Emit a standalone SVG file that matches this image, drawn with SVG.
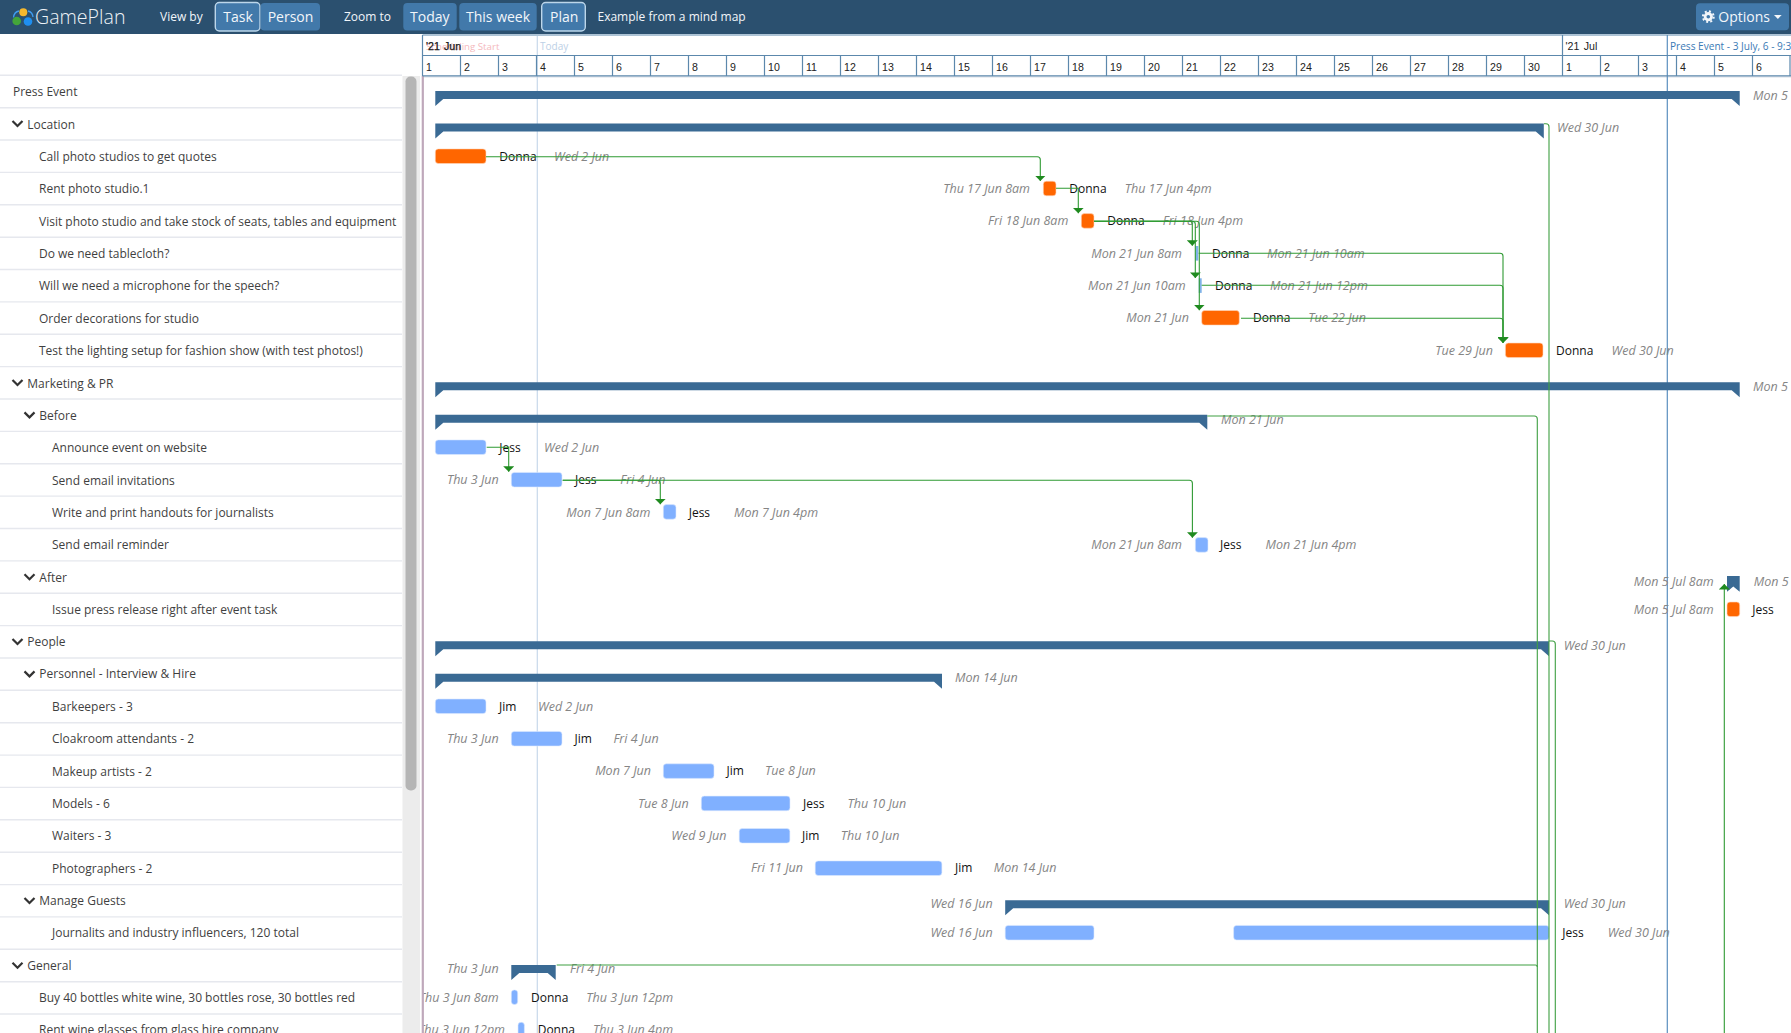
<svg xmlns="http://www.w3.org/2000/svg" width="1791" height="1033" viewBox="0 0 1791 1033">
<style>
text{font-family:"Open Sans","Liberation Sans",sans-serif}
.r{font-size:12px;fill:#3f3f3f}
.d{font-size:12.5px;font-style:italic;fill:#858585;transform:translateY(-.4px)}
.e{text-anchor:end}
.p{font-size:12px;fill:#111;transform:translateY(-.4px)}
.n{font-family:"Liberation Sans",Arial,sans-serif;font-size:10.6px;fill:#222}
.o{fill:#ff6600;stroke:#ffd9bf;stroke-width:.6}
.b{fill:#80b0ff;stroke:#dce9ff;stroke-width:.6}
.s{fill:#3a6a94}
.c{fill:none;stroke:#3f9f42;stroke-width:1.1}
.a{fill:none;stroke:#2f9a33;stroke-width:1.1;marker-end:url(#arr)}
.sep{stroke:#e6e8ee;stroke-width:1.4}
.cell{stroke:#5c88ac;stroke-width:1.2;fill:none}
.btn{fill:#4279aa}
.sel{fill:#4279aa;stroke:#bcd6ea;stroke-width:1.4}
.t{font-size:14px;fill:#f2f6fa}
.w{font-size:12px;fill:#f2f6fa}
.ch{fill:none;stroke:#333;stroke-width:2.2}
</style>
<defs>
<marker id="arr" markerUnits="userSpaceOnUse" markerWidth="6" markerHeight="11" refX="5.5" refY="5.5" orient="auto" viewBox="0 0 6 11"><path d="M0 0L5.5 5.5L0 11Z" fill="#1f8a1f"/></marker>
</defs>
<rect width="1791" height="1033" fill="#fff"/>

<g id="chart-lines">
<rect x="422" y="76" width="1369" height="2" fill="#eceef2"/>
<line x1="537.3" y1="36" x2="537.3" y2="1033" stroke="#c8d8ea" stroke-width="1.2"/>
<line x1="1667.3" y1="35" x2="1667.3" y2="1033" stroke="#5b8fbf" stroke-width="1.2"/>
</g>

<g id="press-event"><polygon class="s" points="435.3,91 1739.7,91 1739.7,106 1731.7,99 443.3,99 435.3,106"/><text class="d" x="1753" y="100.5">Mon 5</text></g>
<g id="location"><polygon class="s" points="435.3,123.4 1543.8,123.4 1543.8,138.4 1535.8,131.4 443.3,131.4 435.3,138.4"/><text class="d" x="1557" y="132.8">Wed 30 Jun</text></g>
<g id="call-photo-studios"><rect class="o" x="435.3" y="148.9" width="50.7" height="14.6" rx="3"/><text class="p" x="499.3" y="161">Donna</text><text class="d" x="554" y="161">Wed 2 Jun</text></g>
<g id="rent-photo-studio"><text class="d e" x="1030" y="193.4">Thu 17 Jun 8am</text><rect class="o" x="1043.3" y="181.2" width="12.7" height="14.6" rx="3"/><text class="p" x="1069.3" y="193.4">Donna</text><text class="d" x="1124.7" y="193.4">Thu 17 Jun 4pm</text></g>
<g id="visit-photo-studio"><text class="d e" x="1068.3" y="225.8">Fri 18 Jun 8am</text><rect class="o" x="1081.3" y="213.6" width="12.7" height="14.6" rx="3"/><text class="p" x="1107.3" y="225.8">Donna</text><text class="d" x="1162.7" y="225.8">Fri 18 Jun 4pm</text></g>
<g id="tablecloth"><text class="d e" x="1182" y="258.2">Mon 21 Jun 8am</text><rect x="1195.3" y="246" width="3" height="14.6" fill="#7fb2e8"/><text class="p" x="1212" y="258.2">Donna</text><text class="d" x="1267" y="258.2">Mon 21 Jun 10am</text></g>
<g id="microphone"><text class="d e" x="1185.7" y="290.5">Mon 21 Jun 10am</text><rect x="1198.7" y="278.3" width="3" height="14.6" fill="#7fb2e8"/><text class="p" x="1215" y="290.5">Donna</text><text class="d" x="1270" y="290.5">Mon 21 Jun 12pm</text></g>
<g id="order-decorations"><text class="d e" x="1189" y="322.9">Mon 21 Jun</text><rect class="o" x="1201.7" y="310.5" width="37.6" height="14.6" rx="3"/><text class="p" x="1253" y="322.9">Donna</text><text class="d" x="1308.3" y="322.9">Tue 22 Jun</text></g>
<g id="test-lighting"><text class="d e" x="1493" y="355.3">Tue 29 Jun</text><rect class="o" x="1505.4" y="343" width="37.6" height="14.6" rx="3"/><text class="p" x="1556" y="355.3">Donna</text><text class="d" x="1611.6" y="355.3">Wed 30 Jun</text></g>

<g id="marketing-pr"><polygon class="s" points="435.3,382.3 1739.7,382.3 1739.7,397.3 1731.7,390.3 443.3,390.3 435.3,397.3"/><text class="d" x="1753" y="391.8">Mon 5</text></g>
<g id="before"><polygon class="s" points="435.3,414.7 1207.3,414.7 1207.3,429.7 1199.3,422.7 443.3,422.7 435.3,429.7"/><text class="d" x="1221" y="424.2">Mon 21 Jun</text></g>
<g id="announce-event"><rect class="b" x="435.3" y="439.9" width="50.7" height="14.6" rx="3"/><text class="p" x="499.3" y="452.4">Jess</text><text class="d" x="544" y="452.4">Wed 2 Jun</text></g>
<g id="send-email-invitations"><text class="d e" x="498.7" y="484.7">Thu 3 Jun</text><rect class="b" x="511.3" y="472.4" width="50.7" height="14.6" rx="3"/><text class="p" x="575" y="484.7">Jess</text><text class="d" x="620.3" y="484.7">Fri 4 Jun</text></g>
<g id="write-handouts"><text class="d e" x="650.3" y="517.1">Mon 7 Jun 8am</text><rect class="b" x="663.3" y="504.6" width="12.7" height="14.6" rx="3"/><text class="p" x="688.7" y="517.1">Jess</text><text class="d" x="734" y="517.1">Mon 7 Jun 4pm</text></g>
<g id="send-email-reminder"><text class="d e" x="1182" y="549.5">Mon 21 Jun 8am</text><rect class="b" x="1195.3" y="537.6" width="12.7" height="14.6" rx="3"/><text class="p" x="1220" y="549.5">Jess</text><text class="d" x="1265.5" y="549.5">Mon 21 Jun 4pm</text></g>
<g id="after"><text class="d e" x="1713.7" y="586">Mon 5 Jul 8am</text><polygon class="s" points="1727,576 1739.7,576 1739.7,591.7 1733.3,586.5 1727,591.7"/><text class="d" x="1753.7" y="586">Mon 5</text></g>
<g id="press-release"><text class="d e" x="1713.7" y="614.2">Mon 5 Jul 8am</text><rect class="o" x="1727" y="602" width="12.7" height="14.6" rx="3"/><text class="p" x="1752.3" y="614.2">Jess</text></g>

<g id="people"><polygon class="s" points="435.3,641.3 1549,641.3 1549,656.3 1541,649.3 443.3,649.3 435.3,656.3"/><text class="d" x="1563.7" y="650.3">Wed 30 Jun</text></g>
<g id="personnel"><polygon class="s" points="435.3,673.7 942,673.7 942,688.7 934,681.7 443.3,681.7 435.3,688.7"/><text class="d" x="955" y="682.7">Mon 14 Jun</text></g>
<g id="barkeepers"><rect class="b" x="435.3" y="699" width="50.7" height="14.6" rx="3"/><text class="p" x="499" y="711">Jim</text><text class="d" x="538" y="711">Wed 2 Jun</text></g>
<g id="cloakroom"><text class="d e" x="498.7" y="743.3">Thu 3 Jun</text><rect class="b" x="511.3" y="731.4" width="50.7" height="14.6" rx="3"/><text class="p" x="574.5" y="743.3">Jim</text><text class="d" x="613.4" y="743.3">Fri 4 Jun</text></g>
<g id="makeup-artists"><text class="d e" x="651" y="775.7">Mon 7 Jun</text><rect class="b" x="663.3" y="763.8" width="50.7" height="14.6" rx="3"/><text class="p" x="726.5" y="775.7">Jim</text><text class="d" x="765" y="775.7">Tue 8 Jun</text></g>
<g id="models"><text class="d e" x="688.7" y="808">Tue 8 Jun</text><rect class="b" x="701.3" y="796.1" width="88.7" height="14.6" rx="3"/><text class="p" x="803" y="808">Jess</text><text class="d" x="847.5" y="808">Thu 10 Jun</text></g>
<g id="waiters"><text class="d e" x="726.5" y="840.4">Wed 9 Jun</text><rect class="b" x="739.2" y="828.5" width="50.7" height="14.6" rx="3"/><text class="p" x="802" y="840.4">Jim</text><text class="d" x="840.7" y="840.4">Thu 10 Jun</text></g>
<g id="photographers"><text class="d e" x="803" y="872.8">Fri 11 Jun</text><rect class="b" x="815.2" y="860.9" width="126.7" height="14.6" rx="3"/><text class="p" x="955" y="872.8">Jim</text><text class="d" x="993.7" y="872.8">Mon 14 Jun</text></g>
<g id="manage-guests"><text class="d e" x="992.6" y="908.8">Wed 16 Jun</text><polygon class="s" points="1005.2,900.3 1549,900.3 1549,915.3 1541,908.3 1013.2,908.3 1005.2,915.3"/><text class="d" x="1563.7" y="908.8">Wed 30 Jun</text></g>
<g id="journalists"><text class="d e" x="992.6" y="937.4">Wed 16 Jun</text><rect class="b" x="1005.2" y="925.4" width="88.8" height="14.6" rx="3"/><rect class="b" x="1233.6" y="925.4" width="315.4" height="14.6" rx="3"/><text class="p" x="1562.3" y="937.4">Jess</text><text class="d" x="1607.7" y="937.4">Wed 30 Jun</text></g>
<g id="general"><text class="d e" x="498.7" y="973.5">Thu 3 Jun</text><polygon class="s" points="511.3,965 555.7,965 555.7,980 547.7,973 519.3,973 511.3,980"/><text class="d" x="570" y="973.5">Fri 4 Jun</text></g>
<g id="buy-bottles"><text class="d e" x="498.7" y="1002.2">Thu 3 Jun 8am</text><rect class="b" x="511.3" y="989.9" width="6.4" height="14.6" rx="3"/><text class="p" x="531" y="1002.2">Donna</text><text class="d" x="586.3" y="1002.2">Thu 3 Jun 12pm</text></g>
<g id="rent-wine-glasses"><text class="d e" x="505" y="1034.5">Thu 3 Jun 12pm</text><rect class="b" x="518" y="1022.3" width="6.4" height="14.6" rx="3"/><text class="p" x="537.7" y="1034.5">Donna</text><text class="d" x="593" y="1034.5">Thu 3 Jun 4pm</text></g>

<g id="connectors">
<path class="a" d="M486 156.7H1037.3Q1040.3 156.7 1040.3 159.7V181"/>
<path class="a" d="M1056 188.3H1078.3V213.3"/>
<path class="a" d="M1094 221.3H1189.3Q1192.3 221.3 1192.3 224.3V245.7"/>
<path class="a" d="M1094 221.3H1192.3Q1195.3 221.3 1195.3 224.3V277.9"/>
<path class="a" d="M1094 221.3H1196.3Q1199.3 221.3 1199.3 224.3V310.2"/>
<path class="a" d="M1198.7 253.3H1500Q1503 253.3 1503 256.3V342.8"/>
<path class="a" d="M1201.7 285.3H1500Q1503 285.3 1503 288.3V342.8"/>
<path class="a" d="M1241 318.3H1500Q1503 318.3 1503 321.3V342.8"/>
<path class="c" d="M1544 123.7H1546Q1549 123.7 1549 126.7V1033"/>
<path class="c" d="M1207.3 416H1534.3Q1537.3 416 1537.3 419V1033"/>
<path class="c" d="M1549 641H1552.3Q1555.3 641 1555.3 644V1033"/>
<path class="c" d="M556.7 965H1535.3Q1537.3 965 1537.3 967"/>
<path class="a" d="M486.7 447.3H508.7V471.7"/>
<path class="a" d="M562.7 480.3H657.3Q660.3 480.3 660.3 483.3V504.3"/>
<path class="a" d="M562.7 480.3H1189.4Q1192.4 480.3 1192.4 483.3V537.7"/>
<path class="a" d="M1724.3 1033V584"/>
</g>

<g id="task-panel">
<rect x="0" y="34" width="422" height="999" fill="#fff"/>
<g id="row-lines">
<line class="sep" x1="0" x2="402" y1="75.3" y2="75.3"/><line class="sep" x1="0" x2="402" y1="107.7" y2="107.7"/><line class="sep" x1="0" x2="402" y1="140" y2="140"/><line class="sep" x1="0" x2="402" y1="172.4" y2="172.4"/><line class="sep" x1="0" x2="402" y1="204.8" y2="204.8"/><line class="sep" x1="0" x2="402" y1="237.2" y2="237.2"/><line class="sep" x1="0" x2="402" y1="269.5" y2="269.5"/><line class="sep" x1="0" x2="402" y1="301.9" y2="301.9"/><line class="sep" x1="0" x2="402" y1="334.3" y2="334.3"/><line class="sep" x1="0" x2="402" y1="366.6" y2="366.6"/><line class="sep" x1="0" x2="402" y1="399" y2="399"/><line class="sep" x1="0" x2="402" y1="431.4" y2="431.4"/><line class="sep" x1="0" x2="402" y1="463.7" y2="463.7"/><line class="sep" x1="0" x2="402" y1="496.1" y2="496.1"/><line class="sep" x1="0" x2="402" y1="528.5" y2="528.5"/><line class="sep" x1="0" x2="402" y1="560.9" y2="560.9"/><line class="sep" x1="0" x2="402" y1="593.2" y2="593.2"/><line class="sep" x1="0" x2="402" y1="625.6" y2="625.6"/><line class="sep" x1="0" x2="402" y1="658" y2="658"/><line class="sep" x1="0" x2="402" y1="690.3" y2="690.3"/><line class="sep" x1="0" x2="402" y1="722.7" y2="722.7"/><line class="sep" x1="0" x2="402" y1="755.1" y2="755.1"/><line class="sep" x1="0" x2="402" y1="787.4" y2="787.4"/><line class="sep" x1="0" x2="402" y1="819.8" y2="819.8"/><line class="sep" x1="0" x2="402" y1="852.2" y2="852.2"/><line class="sep" x1="0" x2="402" y1="884.6" y2="884.6"/><line class="sep" x1="0" x2="402" y1="916.9" y2="916.9"/><line class="sep" x1="0" x2="402" y1="949.3" y2="949.3"/><line class="sep" x1="0" x2="402" y1="981.7" y2="981.7"/><line class="sep" x1="0" x2="402" y1="1014" y2="1014"/>
</g>
<g id="row-labels">
<text class="r" x="13" y="96.2">Press Event</text>
<path class="ch" d="M12.5 121L17.5 126L22.5 121"/><text class="r" x="27.3" y="128.6">Location</text>
<text class="r" x="39" y="160.9">Call photo studios to get quotes</text>
<text class="r" x="39" y="193.3">Rent photo studio.1</text>
<text class="r" x="39" y="225.7">Visit photo studio and take stock of seats, tables and equipment</text>
<text class="r" x="39" y="258.1">Do we need tablecloth?</text>
<text class="r" x="39" y="290.4">Will we need a microphone for the speech?</text>
<text class="r" x="39" y="322.8">Order decorations for studio</text>
<text class="r" x="39" y="355.2">Test the lighting setup for fashion show (with test photos!)</text>
<path class="ch" d="M12.5 380L17.5 385L22.5 380"/><text class="r" x="27.3" y="387.5">Marketing &amp; PR</text>
<path class="ch" d="M24.5 412.4L29.5 417.4L34.5 412.4"/><text class="r" x="39.3" y="419.9">Before</text>
<text class="r" x="52" y="452.3">Announce event on website</text>
<text class="r" x="52" y="484.6">Send email invitations</text>
<text class="r" x="52" y="517">Write and print handouts for journalists</text>
<text class="r" x="52" y="549.4">Send email reminder</text>
<path class="ch" d="M24.5 574.3L29.5 579.3L34.5 574.3"/><text class="r" x="39.3" y="581.8">After</text>
<text class="r" x="52" y="614.1">Issue press release right after event task</text>
<path class="ch" d="M12.5 639L17.5 644L22.5 639"/><text class="r" x="27.3" y="646">People</text>
<path class="ch" d="M24.5 671.4L29.5 676.4L34.5 671.4"/><text class="r" x="39.3" y="678.4">Personnel - Interview &amp; Hire</text>
<text class="r" x="52" y="710.7">Barkeepers - 3</text>
<text class="r" x="52" y="743.1">Cloakroom attendants - 2</text>
<text class="r" x="52" y="775.5">Makeup artists - 2</text>
<text class="r" x="52" y="807.8">Models - 6</text>
<text class="r" x="52" y="840.2">Waiters - 3</text>
<text class="r" x="52" y="872.6">Photographers - 2</text>
<path class="ch" d="M24.5 898L29.5 903L34.5 898"/><text class="r" x="39.3" y="905">Manage Guests</text>
<text class="r" x="52" y="937.3">Journalits and industry influencers, 120 total</text>
<path class="ch" d="M12.5 962.7L17.5 967.7L22.5 962.7"/><text class="r" x="27.3" y="969.7">General</text>
<text class="r" x="39" y="1002.1">Buy 40 bottles white wine, 30 bottles rose, 30 bottles red</text>
<text class="r" x="39" y="1034.4">Rent wine glasses from glass hire company</text>
</g>
<g id="scrollbar">
<rect x="402.5" y="76" width="17.5" height="957" fill="#ececec"/>
<rect x="405.5" y="76.5" width="11" height="714" rx="5" fill="#b5b5b5"/>
</g>
</g>
<rect x="421.7" y="76" width="2.2" height="957" fill="#bfa8bb"/>

<g id="timeline">
<text x="426" y="50" font-family="Liberation Sans, Arial, sans-serif" font-size="9.7" fill="#f4b9bd">Scheduling Start</text>
<text x="540" y="50" font-family="Liberation Sans, Arial, sans-serif" font-size="10" fill="#bcd0e6">Today</text>
<text class="n" y="50" stroke="#111" stroke-width=".25"><tspan x="426">'21</tspan><tspan x="444">Jun</tspan></text>
<text class="n" y="50"><tspan x="1565.6">'21</tspan><tspan x="1583.7">Jul</tspan></text>
<text x="1670" y="50" font-family="Liberation Sans, Arial, sans-serif" font-size="10.1" fill="#3a7ab5">Press Event - 3 July, 6 - 9:3</text>
<path class="cell" d="M422.5 35H1791M422.5 55.5H1791M422.5 75.8H1791M422.5 35V76M1562.5 35V55M460.5 55V76M498.5 55V76M536.5 55V76M574.5 55V76M612.5 55V76M650.5 55V76M688.5 55V76M726.5 55V76M764.5 55V76M802.5 55V76M840.5 55V76M878.5 55V76M916.5 55V76M954.5 55V76M992.5 55V76M1030.5 55V76M1068.5 55V76M1106.5 55V76M1144.5 55V76M1182.5 55V76M1220.5 55V76M1258.5 55V76M1296.5 55V76M1334.5 55V76M1372.5 55V76M1410.5 55V76M1448.5 55V76M1486.5 55V76M1524.5 55V76M1562.5 55V76M1600.5 55V76M1638.5 55V76M1676.5 55V76M1714.5 55V76M1752.5 55V76M1790 55V76"/>
<g>
<text class="n" x="426" y="70.5">1</text><text class="n" x="464" y="70.5">2</text><text class="n" x="502" y="70.5">3</text><text class="n" x="540" y="70.5">4</text><text class="n" x="578" y="70.5">5</text><text class="n" x="616" y="70.5">6</text><text class="n" x="654" y="70.5">7</text><text class="n" x="692" y="70.5">8</text><text class="n" x="730" y="70.5">9</text><text class="n" x="768" y="70.5">10</text><text class="n" x="806" y="70.5">11</text><text class="n" x="844" y="70.5">12</text><text class="n" x="882" y="70.5">13</text><text class="n" x="920" y="70.5">14</text><text class="n" x="958" y="70.5">15</text><text class="n" x="996" y="70.5">16</text><text class="n" x="1034" y="70.5">17</text><text class="n" x="1072" y="70.5">18</text><text class="n" x="1110" y="70.5">19</text><text class="n" x="1148" y="70.5">20</text><text class="n" x="1186" y="70.5">21</text><text class="n" x="1224" y="70.5">22</text><text class="n" x="1262" y="70.5">23</text><text class="n" x="1300" y="70.5">24</text><text class="n" x="1338" y="70.5">25</text><text class="n" x="1376" y="70.5">26</text><text class="n" x="1414" y="70.5">27</text><text class="n" x="1452" y="70.5">28</text><text class="n" x="1490" y="70.5">29</text><text class="n" x="1528" y="70.5">30</text><text class="n" x="1566" y="70.5">1</text><text class="n" x="1604" y="70.5">2</text><text class="n" x="1642" y="70.5">3</text><text class="n" x="1680" y="70.5">4</text><text class="n" x="1718" y="70.5">5</text><text class="n" x="1756" y="70.5">6</text>
</g>
</g>

<g id="toolbar">
<rect width="1791" height="34" fill="#2b506f"/>
<g id="logo">
<path d="M13.5 17.5Q14 12 19 11" fill="none" stroke="#3f9cf0" stroke-width="1.3"/>
<path d="M28 11Q32.5 12 33 17" fill="none" stroke="#3f9cf0" stroke-width="1.3"/>
<circle cx="23.3" cy="12.3" r="4" fill="#f5b82e"/>
<circle cx="16.7" cy="21" r="4.3" fill="#44a53a"/>
<circle cx="28" cy="21.5" r="4.3" fill="#1f8ff0"/>
<text x="35" y="24" font-size="19.6" font-weight="300" fill="#eef3f7">GamePlan</text>
</g>
<text class="w" x="160" y="21">View by</text>
<g id="btn-task"><rect class="sel" x="215.3" y="2.5" width="44.7" height="28.5" rx="4"/><text class="t" x="223.3" y="21.5">Task</text></g>
<g id="btn-person"><rect class="btn" x="260.5" y="3" width="59.5" height="27.5" rx="4"/><text class="t" x="267.7" y="21.5">Person</text></g>
<text class="w" x="344" y="21">Zoom to</text>
<g id="btn-today"><rect class="btn" x="403.3" y="3" width="53.4" height="27.5" rx="4"/><text class="t" x="410" y="21.5">Today</text></g>
<g id="btn-week"><rect class="btn" x="459.3" y="3" width="77.4" height="27.5" rx="4"/><text class="t" x="466" y="21.5">This week</text></g>
<g id="btn-plan"><rect class="sel" x="541.7" y="2.5" width="43.6" height="28.5" rx="4"/><text class="t" x="550" y="21.5">Plan</text></g>
<text class="w" x="597.5" y="21">Example from a mind map</text>
<g id="btn-options">
<rect class="btn" x="1696" y="3.3" width="93" height="27" rx="4"/>
<circle cx="1708.3" cy="16.7" r="4.6" fill="#f2f6fa"/>
<circle cx="1708.3" cy="16.7" r="5.4" fill="none" stroke="#f2f6fa" stroke-width="2" stroke-dasharray="2 2.24"/>
<circle cx="1708.3" cy="16.7" r="1.8" fill="#4279aa"/>
<text x="1718.3" y="22" font-size="14" fill="#f2f6fa">Options</text>
<path d="M1774 15H1781.7L1777.85 19Z" fill="#f2f6fa"/>
</g>
</g>
</svg>
